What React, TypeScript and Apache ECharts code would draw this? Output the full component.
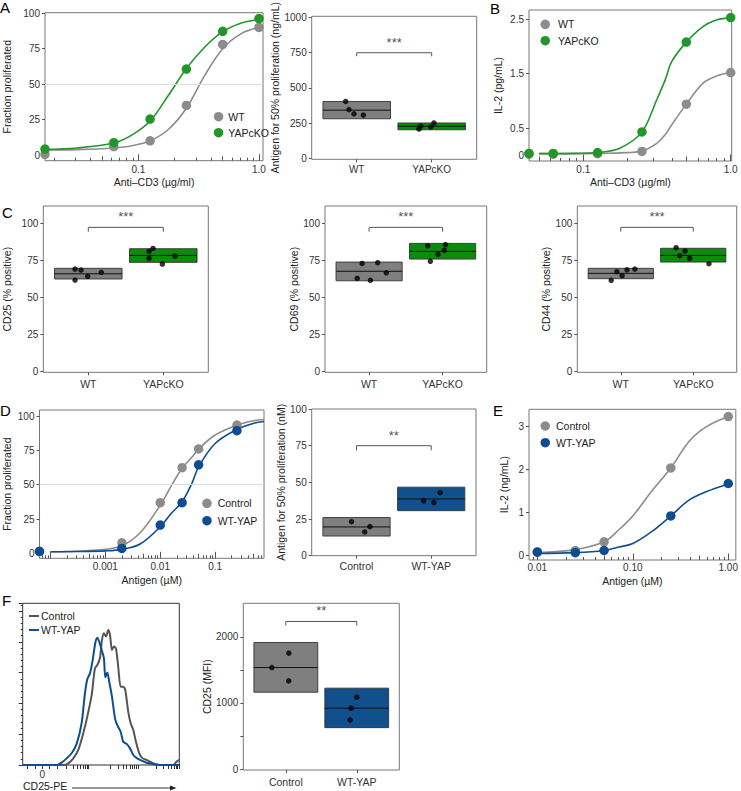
import React, { useEffect, useRef } from 'react';
import * as echarts from 'echarts';

const FONT = 'Liberation Sans';
const TXT = '#222';

// ---------------- Panel A (left): proliferation vs anti-CD3 ----------------
const aDoses = [0.0168, 0.0625, 0.125, 0.25, 0.5, 1.0];
const aWT = [0.5, 6, 10, 35, 78, 90];
const aYAP = [4.2, 8.7, 25.4, 60.6, 87.3, 96.3];
const aFitDoses = [0.0168, 0.031, 0.0625, 0.088, 0.125, 0.177, 0.25, 0.354, 0.5, 0.707, 1.0];
const aWTFit = [3.5, 3.8, 5, 6.5, 10, 18, 33, 56, 75, 85.5, 90];
const aYAPFit = [4, 5, 8.5, 14, 24, 42, 61, 76, 87, 93, 95.5];
const aXRange = [0.0168, 1.08];
const aXTicks = [0.1, 1];
const aXTickLabels = ['0.1', '1.0'];
const aYTicks = [0, 25, 50, 75, 100];

// ---------------- Panel A (right): antigen for 50% proliferation ----------------
const aeCats = ['WT', 'YAPcKO'];
const aeBoxWT = [281, 342, 404];
const aeBoxYAP = [203, 228, 251];
const aePtsWT = [404, 346, 316, 307];
const aeJitWT = [-0.147, -0.103, -0.036, 0.088];
const aePtsYAP = [208, 228, 223, 251];
const aeJitYAP = [-0.17, -0.147, -0.01, 0.03];
const aeYTicks = [0, 250, 500, 750, 1000];
const aeBracket = [750, 725];

// ---------------- Panel B: IL-2 vs anti-CD3 ----------------
const bDoses = [0.0428, 0.0625, 0.125, 0.25, 0.5, 1.0];
const bWT = [0.02, 0.02, 0.03, 0.07, 0.94, 1.52];
const bYAP = [0.035, 0.035, 0.05, 0.43, 2.08, 2.53];
const bFitDoses = [0.05, 0.0625, 0.088, 0.125, 0.177, 0.25, 0.315, 0.36, 0.398, 0.5, 0.652, 0.81, 1.0];
const bWTFit = [0.03, 0.03, 0.03, 0.035, 0.045, 0.08, 0.22, 0.38, 0.56, 0.94, 1.33, 1.46, 1.52];
const bYAPFit = [0.03, 0.03, 0.035, 0.05, 0.13, 0.43, 1.02, 1.39, 1.72, 2.08, 2.37, 2.49, 2.53];
const bXRange = [0.0428, 1.016];
const bXTicks = [0.1, 1];
const bXTickLabels = ['0.1', '1.0'];
const bYTicks = [0, 0.5, 1.5, 2.5];

// ---------------- Panel C: CD25 / CD69 / CD44 ----------------
const cCats = ['WT', 'YAPcKO'];
const cYTicks = [0, 25, 50, 75, 100];
const c1BoxWT = [62.5, 66, 69.7];
const c1BoxYAP = [73.7, 78.4, 82.9];
const c1PtsWT = [69.2, 68.5, 64.3, 67, 61.8];
const c1JitWT = [-0.177, -0.097, -0.009, 0.173, -0.177];
const c1PtsYAP = [81.1, 83.1, 76.4, 72.6, 78];
const c1JitYAP = [-0.19, -0.137, -0.19, -0.013, 0.156];
const c2BoxWT = [61.3, 67.7, 73.9];
const c2BoxYAP = [75.9, 81.1, 86.5];
const c2PtsWT = [62.9, 73, 61.6, 73.5, 66.7];
const c2JitWT = [-0.162, -0.095, 0.018, 0.118, 0.234];
const c2PtsYAP = [84.9, 74.4, 79.1, 81.8, 85.6];
const c2JitYAP = [-0.203, -0.167, -0.062, 0.023, 0.04];
const c3BoxWT = [62.7, 66.3, 69.7];
const c3BoxYAP = [73.9, 78.4, 83.2];
const c3PtsWT = [61.6, 67.4, 64.7, 68.7, 69.2];
const c3JitWT = [-0.132, -0.054, 0.018, 0.086, 0.194];
const c3PtsYAP = [83.6, 78.2, 81.3, 76.4, 72.8];
const c3JitYAP = [-0.236, -0.186, -0.113, -0.05, 0.217];
const cBracket = [97.3, 94.4];

// ---------------- Panel D (left): proliferation vs antigen ----------------
const dDoses = [0.000063, 0.002, 0.01, 0.025, 0.05, 0.25];
const dCtrl = [1.2, 7.7, 36.9, 62.4, 76, 93.4];
const dYAP = [1.5, 3.6, 20.6, 36.9, 64.5, 89.3];
const dFitDoses = [0.0001, 0.0003, 0.001, 0.002, 0.0043, 0.01, 0.0158, 0.025, 0.0377, 0.05, 0.1, 0.25, 0.5, 0.778];
const dCtrlFit = [1.2, 1.5, 3, 5.5, 15, 35, 49, 62, 70, 76, 86.2, 93.4, 96.6, 97.5];
const dYAPFit = [1.2, 1.3, 1.8, 2.9, 6.8, 19.4, 29, 37.6, 51, 63, 80, 90.3, 94.7, 96];
const dXRange = [0.000063, 0.778];
const dXTicks = [0.001, 0.01, 0.1];
const dXTickLabels = ['0.001', '0.01', '0.1'];
const dYTicks = [0, 25, 50, 75, 100];

// ---------------- Panel D (right): antigen for 50% proliferation ----------------
const deCats = ['Control', 'WT-YAP'];
const deBoxCtrl = [13.4, 19.6, 26];
const deBoxYAP = [30.7, 38.7, 46.7];
const dePtsCtrl = [23.2, 16.2, 19.8];
const deJitCtrl = [-0.067, 0.11, 0.18];
const dePtsYAP = [37.4, 36.2, 43];
const deJitYAP = [-0.102, 0.036, 0.12];
const deYTicks = [0, 25, 50, 75, 100];
const deBracket = [75, 71.8];

// ---------------- Panel E: IL-2 vs antigen ----------------
const eDoses = [0.01, 0.025, 0.05, 0.25, 1.0];
const eCtrl = [0.09, 0.12, 0.32, 2.03, 3.22];
const eYAP = [0.08, 0.07, 0.12, 0.92, 1.67];
const eFitDoses = [0.01, 0.025, 0.05, 0.0714, 0.1, 0.159, 0.25, 0.39, 0.586, 1.0];
const eCtrlFit = [0.07, 0.14, 0.32, 0.6, 0.92, 1.5, 2.03, 2.65, 2.98, 3.22];
const eYAPFit = [0.05, 0.07, 0.12, 0.2, 0.28, 0.56, 0.92, 1.29, 1.48, 1.66];
const eXRange = [0.00818, 1.2];
const eXTicks = [0.01, 0.1, 1];
const eXTickLabels = ['0.01', '0.10', '1.00'];
const eYTicks = [0, 1, 2, 3];

// ---------------- Panel F (left): CD25-PE histogram ----------------
const fCtrlX = [-20, 21.5, 26.6, 31.7, 36.8, 41.9, 46.0, 50.5, 53.8, 56.2, 58.9, 61.0, 63.0, 65.1, 67.4, 69.2, 71.2, 73.2, 75.3, 77.6, 80.1, 82.7, 84.8, 87.8, 90.3, 93.0, 95.7, 99.1, 102.6, 106.6, 110.0, 113.4, 120.2, 127.1, 133.8, 137.3, 140];
const fCtrlY = [0, 0, 1.1, 4.3, 9.8, 20.6, 31.4, 45.5, 62.8, 64.9, 69.3, 81.2, 85.5, 83.4, 87.7, 84.4, 74.7, 76.9, 75.7, 63.8, 50.8, 50.8, 48.7, 34.7, 27.1, 22.7, 15.1, 7.6, 4.3, 3.3, 2.2, 1.1, 0, 0, 0, 2.2, 3.3];
const fYapX = [-20, 14.7, 19.8, 24.9, 30.0, 35.1, 40.2, 43.6, 46.0, 48.7, 51.5, 54.1, 56.2, 58.2, 60.7, 63.0, 64.4, 66.4, 68.4, 71.2, 74.3, 76.6, 80.1, 82.7, 86.2, 89.6, 93.0, 97.0, 101.5, 106.6, 113.4, 120.2, 140];
const fYapY = [0, 0, 1.5, 4.3, 7.6, 13.7, 27.1, 46.5, 55.7, 59.5, 68.1, 79.1, 82.7, 80.1, 74.7, 69.3, 56.9, 60.0, 54.1, 44.4, 30.3, 25.9, 21.6, 15.1, 13.7, 10.8, 6.5, 4.3, 2.8, 1.5, 0.6, 0, 0];
const fXTicks = [-15.3, -7.5, 0, 7.2, 15.3, 24.9, 31.7, 35.8, 39.2, 41.9, 43.9, 45.7, 47.0, 69.2, 77.6, 82.7, 86.2, 89.6, 92.3, 94.4, 96.4, 98.1, 116.9, 123.6, 128.7, 132.2, 134.5, 136.6, 138.3, 140];
const fXLabelTicks = [0];
const fXLabels = ['0'];

// ---------------- Panel F (right): CD25 MFI ----------------
const feCats = ['Control', 'WT-YAP'];
const feBoxCtrl = [1162, 1535, 1914];
const feBoxYAP = [626, 920, 1223];
const fePtsCtrl = [1753, 1535, 1333];
const feJitCtrl = [0.042, -0.197, 0.04];
const fePtsYAP = [1086, 920, 742];
const feJitYAP = [0, -0.08, -0.094];
const feYTickMarks = [0, 500, 1000, 1500, 2000];
const feYTickLabels = [0, 1000, 2000];
const feBracket = [2232, 2171];

// ---------------- colours ----------------
const GREY_PT = '#8c8c8c';
const GREEN_PT = '#23962b';
const BLUE_PT = '#0f4d92';
const GREY_BOX = '#7f7f7f';
const GREEN_BOX = '#0b8c0b';
const BLUE_BOX = '#114f8d';

const lg = (v: number) => Math.log10(v);

const nameStyle = { fontSize: 10.5, color: TXT, fontFamily: FONT };
const tickLbl = { fontSize: 10, color: '#333', fontFamily: FONT };
const NO_LINE = { show: false, onZero: false };

function yAxisDef(gi: number, min: number, max: number, ticks: number[], name: string, gap: number, labels?: number[]) {
  return {
    type: 'value', gridIndex: gi, position: 'left', min, max,
    name, nameLocation: 'middle', nameGap: gap, nameRotate: 90, nameTextStyle: nameStyle,
    axisLine: NO_LINE,
    splitLine: { show: false },
    axisTick: { show: true, length: 3, lineStyle: { color: '#555' }, customValues: ticks },
    axisLabel: { show: true, margin: 5, customValues: labels || ticks, formatter: (v: number) => String(v), ...tickLbl },
  };
}

function xLogAxis(gi: number, range: number[], labVals: number[], labTxt: string[], name: string, gap: number, margin: number) {
  return {
    type: 'value', gridIndex: gi, position: 'bottom', min: lg(range[0]), max: lg(range[1]),
    name, nameLocation: 'middle', nameGap: gap, nameTextStyle: nameStyle,
    axisLine: NO_LINE, splitLine: { show: false }, axisTick: { show: false },
    axisLabel: {
      customValues: labVals.map(lg),
      formatter: (v: number) => {
        const i = labVals.findIndex((t) => Math.abs(lg(t) - v) < 1e-6);
        return i >= 0 ? labTxt[i] : '';
      },
      margin, ...tickLbl,
    },
  };
}

// extra, label-less x axes on the same grid that carry the inside log ticks (1, 5, and the rest)
function logTickAxes(gi: number, range: number[], e0: number, e1: number) {
  const groups: { len: number; vals: number[] }[] = [
    { len: 6.5, vals: [] },
    { len: 4.5, vals: [] },
    { len: 3, vals: [] },
  ];
  for (let e = e0; e <= e1; e++) {
    for (let m = 1; m <= 9; m++) {
      const t = m * Math.pow(10, e);
      if (t <= range[0] * 1.0001 || t > range[1]) continue;
      const g = m === 1 ? 0 : m === 5 ? 1 : 2;
      groups[g].vals.push(e + Math.log10(m));
    }
  }
  return groups.map((g) => ({
    type: 'value', gridIndex: gi, position: 'bottom', offset: 0, min: lg(range[0]), max: lg(range[1]),
    axisLine: NO_LINE, splitLine: { show: false },
    axisTick: { show: true, inside: true, length: g.len, customValues: g.vals, lineStyle: { color: '#555' } },
    axisLabel: { show: false },
  }));
}

function xCatAxis(gi: number, cats: string[], fontSize: number, margin: number) {
  return {
    type: 'value', gridIndex: gi, position: 'bottom', min: 0.4, max: 2.6,
    axisLine: NO_LINE, splitLine: { show: false },
    axisTick: { show: true, length: 3, customValues: [1, 2], lineStyle: { color: '#555' } },
    axisLabel: { customValues: [1, 2], formatter: (v: number) => cats[Math.round(v) - 1] ?? '', margin, ...tickLbl, fontSize },
  };
}

function curveSeries(xi: number, yi: number, doses: number[], vals: number[], color: string, name: string, extra: any = {}) {
  return {
    type: 'line', name, xAxisIndex: xi, yAxisIndex: yi, silent: true,
    data: doses.map((d, i) => [lg(d), vals[i]]),
    smooth: 0.35, symbol: 'none', showSymbol: false,
    lineStyle: { color, width: 1.6 }, z: 2, ...extra,
  };
}

function pointSeries(xi: number, yi: number, doses: number[], vals: number[], color: string, name: string) {
  return {
    type: 'scatter', name, xAxisIndex: xi, yAxisIndex: yi, clip: false, silent: true,
    data: doses.map((d, i) => [lg(d), vals[i]]),
    symbolSize: 9.5, itemStyle: { color, opacity: 1 }, z: 4,
  };
}

function crossbar(xi: number, yi: number, x: number, box: number[], color: string) {
  return {
    type: 'custom', xAxisIndex: xi, yAxisIndex: yi, silent: true, z: 2,
    data: [[x, box[0], box[1], box[2]]], encode: { x: 0, y: [1, 2, 3] },
    renderItem: (_p: any, api: any) => {
      const cx = api.value(0);
      const p1 = api.coord([cx - 0.45, api.value(3)]);
      const p2 = api.coord([cx + 0.45, api.value(1)]);
      const m1 = api.coord([cx - 0.45, api.value(2)]);
      const m2 = api.coord([cx + 0.45, api.value(2)]);
      return {
        type: 'group',
        children: [
          { type: 'rect', shape: { x: p1[0], y: p1[1], width: p2[0] - p1[0], height: p2[1] - p1[1] }, style: { fill: color, stroke: '#333', lineWidth: 0.9 } },
          { type: 'line', shape: { x1: m1[0], y1: m1[1], x2: m2[0], y2: m2[1] }, style: { stroke: '#111', lineWidth: 1 } },
        ],
      };
    },
  };
}

function boxPanel(xi: number, yi: number, boxA: number[], boxB: number[], colA: string, colB: string,
  ptsA: number[], jitA: number[], ptsB: number[], jitB: number[], bracket: number[], stars: string) {
  const pts = [
    ...ptsA.map((v, i) => [1 + jitA[i], v]),
    ...ptsB.map((v, i) => [2 + jitB[i], v]),
  ];
  return [
    crossbar(xi, yi, 1, boxA, colA),
    crossbar(xi, yi, 2, boxB, colB),
    {
      type: 'scatter', xAxisIndex: xi, yAxisIndex: yi, silent: true, clip: false, z: 4,
      data: pts, symbolSize: 5.5, itemStyle: { color: '#000' },
    },
    {
      type: 'line', xAxisIndex: xi, yAxisIndex: yi, silent: true, symbol: 'none', showSymbol: false, z: 3,
      data: [[1, bracket[1]], [1, bracket[0]], [2, bracket[0]], [2, bracket[1]]],
      lineStyle: { color: '#555', width: 1 },
    },
    {
      type: 'scatter', xAxisIndex: xi, yAxisIndex: yi, silent: true, z: 5,
      data: [[1.5, bracket[0]]], symbolSize: 2, itemStyle: { color: 'rgba(0,0,0,0)' },
      label: { show: true, formatter: () => stars, position: 'top', distance: 3, fontSize: 13, color: '#222', fontFamily: FONT },
    },
  ];
}

function legendDef(left: number, top: number, names: string[], gap: number, pad: number) {
  return {
    left, top, orient: 'vertical', padding: 0, itemGap: gap, itemWidth: 9.5, itemHeight: 9.5,
    icon: 'circle', selectedMode: false, data: names,
    textStyle: { fontSize: 10.5, lineHeight: 12, color: TXT, fontFamily: FONT, padding: [0, 0, 0, pad] },
  };
}

function letter(t: string, x: number, y: number) {
  return { type: 'text', x, y, style: { text: t, fontSize: 15, fontFamily: FONT, fill: '#000', verticalAlign: 'top' } };
}

function buildOption(): any {
  const gridBorder = '#777';
  const grids = [
    { left: 45, top: 12.7, width: 218, height: 148 },       // 0 A-left
    { left: 311.7, top: 12.7, width: 165, height: 146.6 },  // 1 A-right
    { left: 529, top: 10, width: 202.7, height: 151 },      // 2 B
    { left: 43.3, top: 206, width: 165, height: 166.3 },    // 3 C1
    { left: 325, top: 206, width: 161.7, height: 166.3 },   // 4 C2
    { left: 577.3, top: 206, width: 159.4, height: 166.3 }, // 5 C3
    { left: 39, top: 410, width: 225, height: 148.3 },      // 6 D-left
    { left: 311.7, top: 409, width: 164.3, height: 146.7 }, // 7 D-right
    { left: 529, top: 409.3, width: 207.7, height: 150.7 }, // 8 E
    { left: 22.7, top: 603.3, width: 156.6, height: 161.7 },// 9 F-left
    { left: 243.3, top: 603.3, width: 156, height: 166.7 }, // 10 F-right
  ].map((g, i) => ({
    ...g, show: true, borderWidth: 1, borderColor: i === 9 ? '#333' : gridBorder, backgroundColor: 'transparent', containLabel: false,
  }));

  // x axes 0..10 follow the grids; 11.. are the log-tick carriers
  const xAxis: any[] = [
    xLogAxis(0, aXRange, aXTicks, aXTickLabels, 'Anti\u2013CD3 (\u00b5g/ml)', 16, 3.5),
    xCatAxis(1, aeCats, 10, 5),
    xLogAxis(2, bXRange, bXTicks, bXTickLabels, 'Anti\u2013CD3 (\u00b5g/ml)', 15, 3),
    xCatAxis(3, cCats, 10.5, 6),
    xCatAxis(4, cCats, 10.5, 6),
    xCatAxis(5, cCats, 10.5, 6),
    xLogAxis(6, dXRange, dXTicks, dXTickLabels, 'Antigen (\u00b5M)', 16, 3.5),
    xCatAxis(7, deCats, 10.5, 5),
    xLogAxis(8, eXRange, eXTicks, eXTickLabels, 'Antigen (\u00b5M)', 15.5, 2),
    {
      type: 'value', gridIndex: 9, position: 'bottom', min: -20, max: 140,
      axisLine: NO_LINE, splitLine: { show: false },
      axisTick: { show: true, length: 4, customValues: fXTicks, lineStyle: { color: '#333' } },
      axisLabel: { customValues: fXLabelTicks, formatter: (v: number) => { const i = fXLabelTicks.indexOf(v); return i >= 0 ? fXLabels[i] : ''; }, margin: 4, ...tickLbl },
    },
    xCatAxis(10, feCats, 10.5, 6),
    ...logTickAxes(0, aXRange, -2, 0),
    ...logTickAxes(2, bXRange, -2, 0),
    ...logTickAxes(6, dXRange, -5, -1),
    ...logTickAxes(8, eXRange, -3, 0),
  ];

  const yAxis: any[] = [
    yAxisDef(0, -4, 100.4, aYTicks, 'Fraction proliferated', 33),
    yAxisDef(1, -6.9, 1009, aeYTicks, 'Antigen for 50% proliferation (ng/mL)', 22.5),
    yAxisDef(2, -0.105, 2.67, bYTicks, 'IL-2 (pg/mL)', 26),
    yAxisDef(3, -0.4, 111.7, cYTicks, 'CD25 (% positive)', 31),
    yAxisDef(4, -0.4, 111.7, cYTicks, 'CD69 (% positive)', 20.7),
    yAxisDef(5, -0.4, 111.7, cYTicks, 'CD44 (% positive)', 21.3),
    yAxisDef(6, -3.6, 104.4, dYTicks, 'Fraction proliferated', 27.5),
    yAxisDef(7, 0, 100, deYTicks, 'Antigen for 50% proliferation (nM)', 22.5),
    yAxisDef(8, -0.1, 3.387, eYTicks, 'IL-2 (ng/mL)', 19.7),
    {
      type: 'value', gridIndex: 9, position: 'left', min: 0, max: 105, interval: 20,
      axisLine: NO_LINE, splitLine: { show: false },
      axisTick: { show: true, length: 4, lineStyle: { color: '#333' } },
      minorTick: { show: true, splitNumber: 5, length: 2, lineStyle: { color: '#333' } },
      axisLabel: { show: false },
    },
    yAxisDef(10, -15, 2507, feYTickMarks, 'CD25 (MFI)', 31.3, feYTickLabels),
  ];

  const ref50 = {
    markLine: {
      silent: true, symbol: 'none', label: { show: false },
      lineStyle: { color: '#dedede', width: 1, type: 'solid' },
      data: [{ yAxis: 50 }],
    },
  };

  const series: any[] = [
    // A-left
    curveSeries(0, 0, aFitDoses, aWTFit, GREY_PT, 'WT fit', ref50),
    curveSeries(0, 0, aFitDoses, aYAPFit, GREEN_PT, 'YAPcKO fit'),
    pointSeries(0, 0, aDoses, aWT, GREY_PT, 'WT'),
    pointSeries(0, 0, aDoses, aYAP, GREEN_PT, 'YAPcKO'),
    // A-right
    ...boxPanel(1, 1, aeBoxWT, aeBoxYAP, GREY_BOX, GREEN_BOX, aePtsWT, aeJitWT, aePtsYAP, aeJitYAP, aeBracket, '***'),
    // B
    curveSeries(2, 2, bFitDoses, bWTFit, GREY_PT, 'WT fit'),
    curveSeries(2, 2, bFitDoses, bYAPFit, GREEN_PT, 'YAPcKO fit'),
    pointSeries(2, 2, bDoses, bWT, GREY_PT, 'WT'),
    pointSeries(2, 2, bDoses, bYAP, GREEN_PT, 'YAPcKO'),
    // C
    ...boxPanel(3, 3, c1BoxWT, c1BoxYAP, GREY_BOX, GREEN_BOX, c1PtsWT, c1JitWT, c1PtsYAP, c1JitYAP, cBracket, '***'),
    ...boxPanel(4, 4, c2BoxWT, c2BoxYAP, GREY_BOX, GREEN_BOX, c2PtsWT, c2JitWT, c2PtsYAP, c2JitYAP, cBracket, '***'),
    ...boxPanel(5, 5, c3BoxWT, c3BoxYAP, GREY_BOX, GREEN_BOX, c3PtsWT, c3JitWT, c3PtsYAP, c3JitYAP, cBracket, '***'),
    // D-left
    curveSeries(6, 6, dFitDoses, dCtrlFit, GREY_PT, 'Control fit', ref50),
    curveSeries(6, 6, dFitDoses, dYAPFit, BLUE_PT, 'WT-YAP fit'),
    pointSeries(6, 6, dDoses, dCtrl, GREY_PT, 'Control'),
    pointSeries(6, 6, dDoses, dYAP, BLUE_PT, 'WT-YAP'),
    // D-right
    ...boxPanel(7, 7, deBoxCtrl, deBoxYAP, GREY_BOX, BLUE_BOX, dePtsCtrl, deJitCtrl, dePtsYAP, deJitYAP, deBracket, '**'),
    // E
    curveSeries(8, 8, eFitDoses, eCtrlFit, GREY_PT, 'Control fit'),
    curveSeries(8, 8, eFitDoses, eYAPFit, BLUE_PT, 'WT-YAP fit'),
    pointSeries(8, 8, eDoses, eCtrl, GREY_PT, 'Control'),
    pointSeries(8, 8, eDoses, eYAP, BLUE_PT, 'WT-YAP'),
    // F-left histogram
    {
      type: 'line', name: 'Control histogram', xAxisIndex: 9, yAxisIndex: 9, silent: true, symbol: 'none', showSymbol: false,
      smooth: 0.25, data: fCtrlX.map((x, i) => [x, fCtrlY[i]]), lineStyle: { color: '#555', width: 2 }, z: 2,
    },
    {
      type: 'line', name: 'WT-YAP histogram', xAxisIndex: 9, yAxisIndex: 9, silent: true, symbol: 'none', showSymbol: false,
      smooth: 0.25, data: fYapX.map((x, i) => [x, fYapY[i]]), lineStyle: { color: BLUE_PT, width: 2 }, z: 3,
    },
    // F-right
    ...boxPanel(10, 10, feBoxCtrl, feBoxYAP, GREY_BOX, BLUE_BOX, fePtsCtrl, feJitCtrl, fePtsYAP, feJitYAP, feBracket, '**'),
  ];

  const legend = [
    legendDef(213.8, 110.7, ['WT', 'YAPcKO'], 4, 0),
    legendDef(540.5, 18.3, ['WT', 'YAPcKO'], 4.4, 3),
    legendDef(202.2, 497.3, ['Control', 'WT-YAP'], 5.4, 1),
    legendDef(540.5, 420, ['Control', 'WT-YAP'], 4.7, 1),
  ];

  const graphic: any[] = [
    letter('A', 0, 0),
    letter('B', 490, 1),
    letter('C', 2, 205),
    letter('D', 0, 403),
    letter('E', 493, 403),
    letter('F', 2, 593),
    // F-left legend
    { type: 'line', shape: { x1: 29, y1: 616, x2: 39, y2: 616 }, style: { stroke: '#555', lineWidth: 2 } },
    { type: 'text', x: 41, y: 616, style: { text: 'Control', fontSize: 10.5, fontFamily: FONT, fill: TXT, verticalAlign: 'middle' } },
    { type: 'line', shape: { x1: 29, y1: 630, x2: 39, y2: 630 }, style: { stroke: BLUE_PT, lineWidth: 2 } },
    { type: 'text', x: 41, y: 630, style: { text: 'WT-YAP', fontSize: 10.5, fontFamily: FONT, fill: TXT, verticalAlign: 'middle' } },
    // F-left axis title with arrow
    { type: 'text', x: 23, y: 786, style: { text: 'CD25-PE', fontSize: 10.5, fontFamily: FONT, fill: TXT, verticalAlign: 'middle' } },
    { type: 'line', shape: { x1: 72, y1: 788, x2: 172, y2: 788 }, style: { stroke: '#333', lineWidth: 1 } },
    { type: 'polygon', shape: { points: [[170, 785.5], [176.5, 788], [170, 790.5]] }, style: { fill: '#222' } },
  ];

  return {
    animation: false,
    backgroundColor: '#fff',
    textStyle: { fontFamily: FONT },
    grid: grids,
    xAxis,
    yAxis,
    legend,
    series,
    graphic,
  };
}

export default function App() {
  const ref = useRef<HTMLDivElement>(null);
  useEffect(() => {
    if (!ref.current) return;
    const chart = echarts.init(ref.current, undefined, { renderer: 'svg' });
    chart.setOption(buildOption());
    return () => chart.dispose();
  }, []);
  return <div ref={ref} style={{ position: 'fixed', left: 0, top: 0, width: 741, height: 791, background: '#fff' }} />;
}
